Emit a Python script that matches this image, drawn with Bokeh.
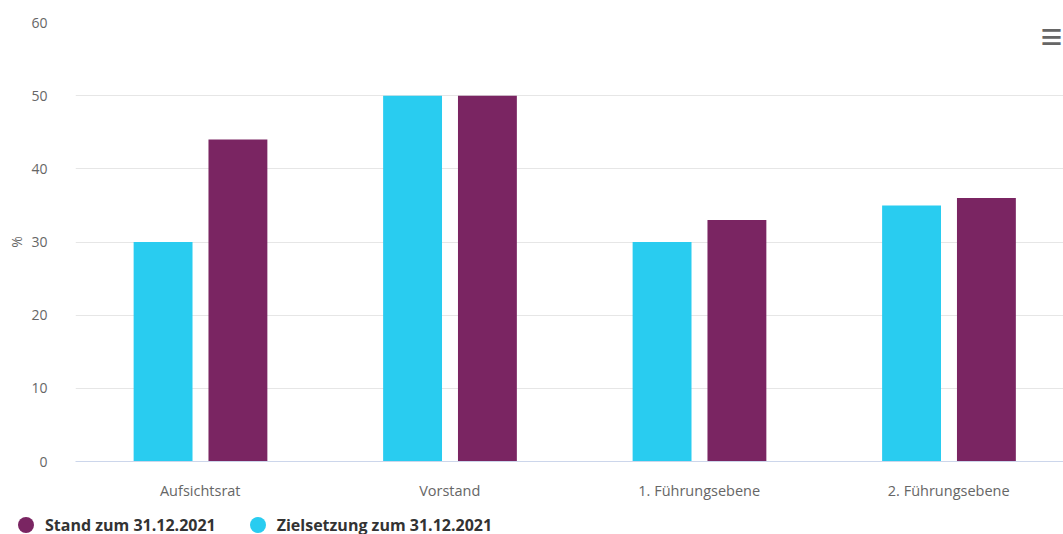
from bokeh.plotting import figure
from bokeh.layouts import column
from bokeh.models import ColumnDataSource, Range1d, FixedTicker, Label, Div
from bokeh.transform import dodge
from bokeh.embed import file_html
from bokeh.resources import INLINE

categories = ["Aufsichtsrat", "Vorstand", "1. Führungsebene", "2. Führungsebene"]
stand = [44, 50, 33, 36]
ziel = [30, 50, 30, 35]
series_names = ["Stand zum 31.12.2021", "Zielsetzung zum 31.12.2021"]

CYAN = "#29CCF0"
PURPLE = "#7A2562"
FONT = "Open Sans"

# category slots: centre of each category at index + 0.5
xpos = [i + 0.5 for i in range(len(categories))]
src = ColumnDataSource(dict(x=xpos, cat=categories, stand=stand, ziel=ziel))

p = figure(width=1063, height=505, x_range=Range1d(0, 3.96),
           y_range=Range1d(0, 60), output_backend="svg", toolbar_location=None,
           min_border_left=75, min_border_right=0, min_border_top=22, min_border_bottom=44)
p.outline_line_color = None
p.background_fill_color = "white"
p.border_fill_color = "white"

r_ziel = p.vbar(x=dodge("x", -0.149), top="ziel", width=0.236, source=src,
                fill_color=CYAN, line_color=None)
r_stand = p.vbar(x=dodge("x", 0.151), top="stand", width=0.236, source=src,
                 fill_color=PURPLE, line_color=None)

# axes
p.yaxis.ticker = FixedTicker(ticks=[0, 10, 20, 30, 40, 50, 60])
p.yaxis.axis_line_color = None
p.yaxis.major_tick_line_color = None
p.yaxis.minor_tick_line_color = None
p.yaxis.major_label_text_font = FONT
p.yaxis.major_label_text_font_size = "14px"
p.yaxis.major_label_text_color = "#666666"
p.yaxis.major_label_standoff = 22
p.yaxis.axis_label = "%"
p.yaxis.axis_label_text_font = FONT
p.yaxis.axis_label_text_font_style = "normal"
p.yaxis.axis_label_text_font_size = "14px"
p.yaxis.axis_label_text_color = "#666666"
p.yaxis.axis_label_standoff = 2

p.xaxis.ticker = FixedTicker(ticks=xpos)
p.xaxis.major_label_overrides = {x: c for x, c in zip(xpos, categories)}
p.xaxis.axis_line_color = "#ccd6eb"
p.xaxis.major_tick_line_color = None
p.xaxis.minor_tick_line_color = None
p.xaxis.major_label_text_font = FONT
p.xaxis.major_label_text_font_size = "14.5px"
p.xaxis.major_label_text_color = "#666666"
p.xaxis.major_label_standoff = 13

p.xgrid.grid_line_color = None
p.ygrid.grid_line_color = "#e6e6e6"

# export-menu icon (decoration)
p.add_layout(Label(x=965, y=401, x_units="screen", y_units="screen",
                   text="≡", text_font=FONT, text_font_size="39px", text_font_style="bold",
                   text_color="#666666"))

# legend row (HTML)
legend_colors = [PURPLE, CYAN]
items_html = "".join(
    f'<span style="display:inline-block;width:16px;height:16px;border-radius:8px;background:{c};'
    f'margin-right:11px;flex:none"></span><span style="margin-right:34px;white-space:nowrap">{name}</span>'
    for name, c in zip(series_names, legend_colors))
legend_div = Div(
    text=(f'<div style="display:flex;align-items:center;height:16px;margin-top:12px;padding-left:18px;'
          f"font-family:'Open Sans';font-weight:bold;font-size:16px;color:#333333;line-height:16px\">"
          f"{items_html}</div>"),
    width=1063, height=29, margin=0)

open("out.html", "w").write(file_html(column(p, legend_div, spacing=0), INLINE))
